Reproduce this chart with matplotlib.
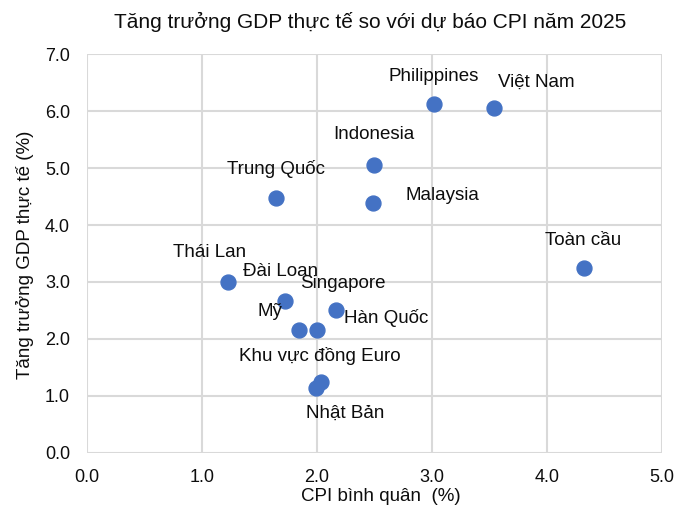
import matplotlib
matplotlib.use('Agg')
import matplotlib.pyplot as plt

# so lieu doc tu bieu do
names = ['Philippines', 'Việt Nam', 'Indonesia', 'Malaysia', 'Trung Quốc', 'Toàn cầu',
         'Thái Lan', 'Đài Loan', 'Singapore', 'Hàn Quốc', 'Mỹ',
         'Khu vực đồng Euro', 'Nhật Bản']
cpi = [3.02, 3.54, 2.50, 2.49, 1.65, 4.32, 1.23, 1.72, 2.00, 2.17, 1.85, 2.04, 1.99]
gdp = [6.12, 6.06, 5.06, 4.38, 4.48, 3.24, 3.00, 2.67, 2.16, 2.50, 2.16, 1.25, 1.14]

# vi tri nhan (pixel, so voi diem)
offsets = [(0, 28), (43, 25), (0, 30), (69, 8), (0, 29), (0, 28),
           (-19, 29), (-4, 29), (26, 46), (50, -8), (-30, 18),
           (-1, 26), (30, -25)]

plt.rcParams['font.family'] = ['Liberation Sans', 'DejaVu Sans']

fig = plt.figure(figsize=(6.8, 5.09), dpi=100)
ax = fig.add_axes([0.1275, 0.1106, 0.8456, 0.7827])

ax.scatter(cpi, gdp, s=115, color='#4472C4', zorder=3, clip_on=False)
for n, x, y, off in zip(names, cpi, gdp, offsets):
    ax.annotate(n, (x, y), xytext=off, textcoords='offset pixels',
                ha='center', va='center', fontsize=13.5, color='#0d0d0d')

ax.set_xlim(0, 5)
ax.set_ylim(0, 7)
ax.set_xticks([0, 1, 2, 3, 4, 5])
ax.set_yticks(range(8))
ax.xaxis.set_major_formatter(matplotlib.ticker.FormatStrFormatter('%.1f'))
ax.yaxis.set_major_formatter(matplotlib.ticker.FormatStrFormatter('%.1f'))
ax.tick_params(length=0, labelsize=13, pad=12, colors='#0d0d0d')
ax.grid(True, color='#D9D9D9', linewidth=1.5)
ax.set_axisbelow(True)
for s in ax.spines.values():
    s.set_visible(False)

fig.text(0.545, 0.957, 'Tăng trưởng GDP thực tế so với dự báo CPI năm 2025',
         ha='center', va='center', fontsize=15, color='#0d0d0d')
fig.text(0.56, 0.024, 'CPI bình quân  (%)', ha='center', va='center',
         fontsize=13.5, color='#0d0d0d')
fig.text(0.037, 0.5, 'Tăng trưởng GDP thực tế (%)', ha='center', va='center',
         rotation=90, fontsize=13.5, color='#0d0d0d')

fig.savefig('out.png', dpi=100)
